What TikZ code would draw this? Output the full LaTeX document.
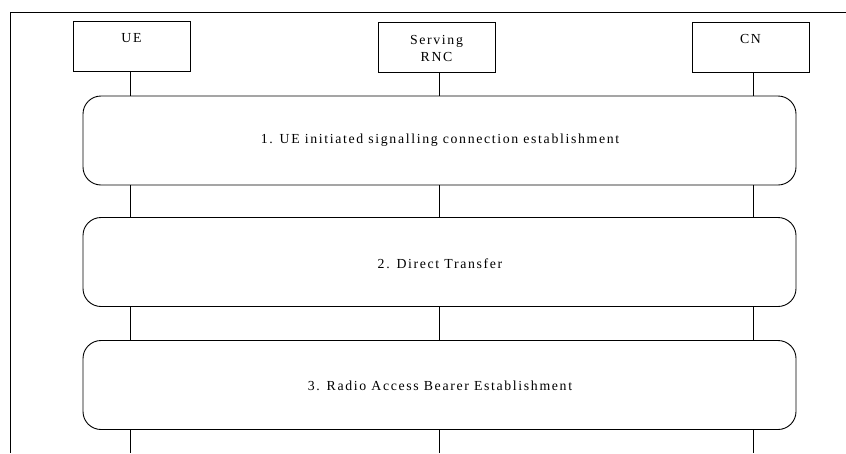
\documentclass[tikz,border=0pt]{standalone}
\usepackage{fontspec}
\setmainfont[LetterSpace=12]{Liberation Serif}
\begin{document}
\begin{tikzpicture}[x=1pt,y=-1pt,
  entity/.style={draw,line width=0.9pt,minimum width=117pt,minimum height=50pt,anchor=north west,inner sep=0pt},
  phase/.style={draw,line width=0.9pt,rounded corners=18pt,minimum width=713pt,minimum height=89pt,inner sep=0pt},
  life/.style={line width=0.9pt},
  lbl/.style={font=\fontsize{13.8}{17}\selectfont}]
\useasboundingbox (0,0) rectangle (846,453);
\draw[line width=0.9pt] (846,12) -- (10,12) -- (10,453);
\node[entity] (ue) at (73,21) {};
\node[lbl] at (131.5,38.5) {UE};
\node[entity] (rnc) at (378,22) {};
\node[lbl,align=center] at (436.5,48) {Serving\\RNC};
\node[entity] (cn) at (692,22) {};
\node[lbl] at (750.5,38.5) {CN};
\node[phase] (p1) at (439.5,140.5) {};
\node[lbl] at (440,140.5) {1. UE initiated signalling connection establishment};
\node[phase] (p2) at (439.5,262) {};
\node[lbl] at (440,263.5) {2. Direct Transfer};
\node[phase] (p3) at (439.5,385) {};
\node[lbl] at (440,385.5) {3. Radio Access Bearer Establishment};
\coordinate (ueend) at (130,453);
\coordinate (rncend) at (439,453);
\coordinate (cnend) at (753,453);
\draw[life] (ue.south -| 130,0) -- (p1.north -| 130,0);
\draw[life] (rnc.south -| 439,0) -- (p1.north -| 439,0);
\draw[life] (cn.south -| 753,0) -- (p1.north -| 753,0);
\draw[life] (p1.south -| 130,0) -- (p2.north -| 130,0);
\draw[life] (p1.south -| 439,0) -- (p2.north -| 439,0);
\draw[life] (p1.south -| 753,0) -- (p2.north -| 753,0);
\draw[life] (p2.south -| 130,0) -- (p3.north -| 130,0);
\draw[life] (p2.south -| 439,0) -- (p3.north -| 439,0);
\draw[life] (p2.south -| 753,0) -- (p3.north -| 753,0);
\draw[life] (p3.south -| 130,0) -- (ueend);
\draw[life] (p3.south -| 439,0) -- (rncend);
\draw[life] (p3.south -| 753,0) -- (cnend);
\end{tikzpicture}
\end{document}
